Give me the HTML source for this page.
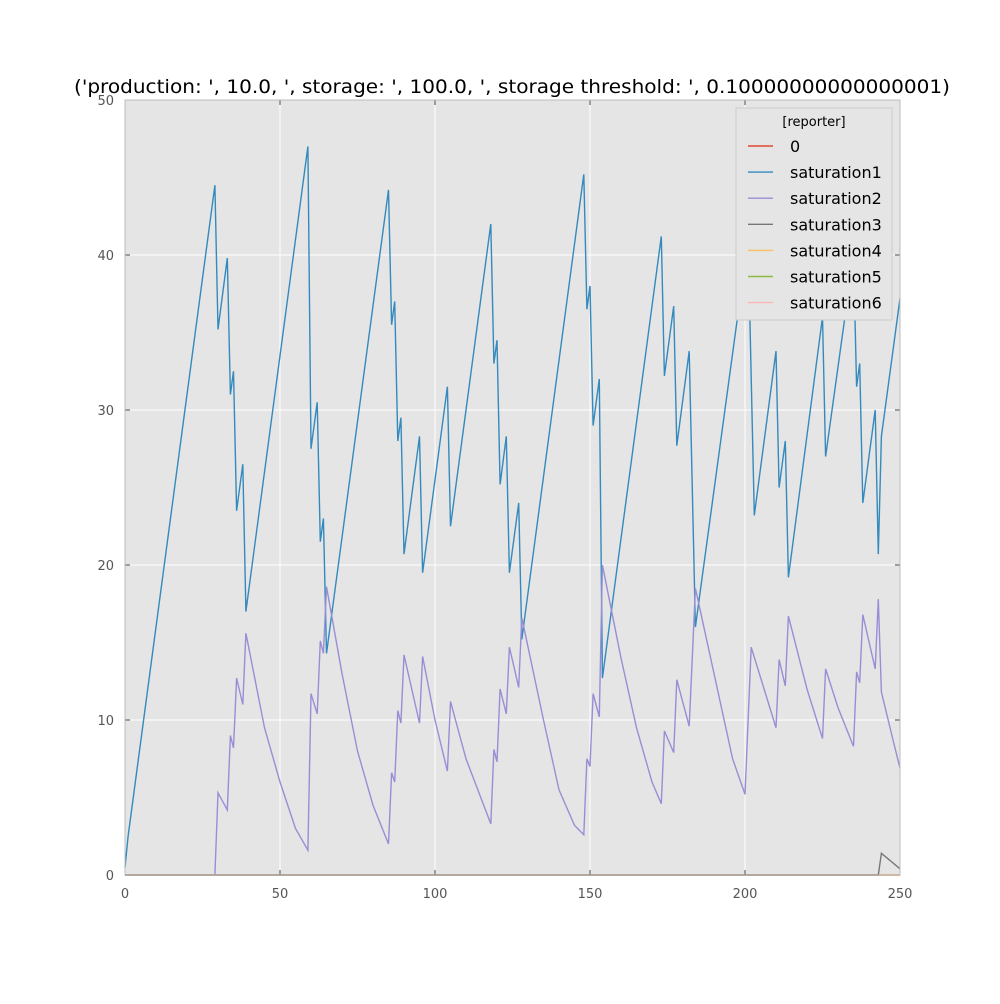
<!DOCTYPE html>
<html><head><meta charset="utf-8"><style>
body{margin:0;background:#fff;font-family:"DejaVu Sans",sans-serif}
svg text{font-family:"DejaVu Sans","Liberation Sans",sans-serif}
</style></head><body>
<svg id="chart" width="1000" height="1000" xmlns="http://www.w3.org/2000/svg">
<rect width="1000" height="1000" fill="#fff"/>
<text x="74" y="93" font-size="19" textLength="876" lengthAdjust="spacingAndGlyphs" fill="#000">('production: ', 10.0, ', storage: ', 100.0, ', storage threshold: ', 0.10000000000000001)</text>
<rect x="125" y="100" width="775" height="775" fill="#e5e5e5"/>
<g id="grid"></g><g id="series"></g><g id="axes"></g><g id="legend"></g>
</svg>
<script>
const xTicks=[0,50,100,150,200,250];
const yTicks=[0,10,20,30,40,50];
const sat1X=[0,1,29,30,33,34,35,36,38,39,59,60,62,63,64,65,85,86,87,88,89,90,95,96,104,105,118,119,120,121,123,124,127,128,148,149,150,151,153,154,173,174,177,178,182,184,201,203,210,211,213,214,225,226,235,236,237,238,242,243,244,250];
const sat1Y=[0.5,2.5,44.5,35.2,39.8,31,32.5,23.5,26.5,17,47,27.5,30.5,21.5,23,14.3,44.2,35.5,37,28,29.5,20.7,28.3,19.5,31.5,22.5,42,33,34.5,25.2,28.3,19.5,24,15.2,45.2,36.5,38,29,32,12.7,41.2,32.2,36.7,27.7,33.8,16,41,23.2,33.8,25,28,19.2,36,27,40,31.5,33,24,30,20.7,28.3,37.2];
const sat2X=[0,29,30,33,34,35,36,38,39,45,50,55,59,60,62,63,64,65,70,75,80,85,86,87,88,89,90,95,96,100,104,105,110,118,119,120,121,123,124,127,128,135,140,145,148,149,150,151,153,154,160,165,170,173,174,177,178,182,184,190,196,200,202,210,211,213,214,220,225,226,230,235,236,237,238,242,243,244,248,250];
const sat2Y=[0,0,5.3,4.2,9,8.2,12.7,11,15.6,9.5,6,3,1.6,11.7,10.4,15.1,14.3,18.6,13,8,4.5,2,6.6,6,10.6,9.8,14.2,9.8,14.1,10,6.7,11.2,7.5,3.3,8.1,7.3,12,10.4,14.7,12.1,16.6,10,5.5,3.2,2.6,7.5,7,11.7,10.2,20,14,9.5,6,4.6,9.3,7.9,12.6,9.6,18.5,13,7.5,5.2,14.7,9.5,13.9,12.2,16.7,12,8.8,13.3,10.8,8.3,13.1,12.4,16.8,13.3,17.8,11.8,8.5,6.9];
const sat3X=[0,243,244,250];
const sat3Y=[0,0,1.4,0.4];
const zeroX=[0,250];
const zeroY=[0,0];
const legendLabels=["0","saturation1","saturation2","saturation3","saturation4","saturation5","saturation6"];
const legendColors=["#e24a33","#348abd","#988ed5","#777777","#fbc15e","#8eba42","#ffb5b8"];

const X=v=>125+v*775/250, Y=v=>875-v*775/50;
const NS="http://www.w3.org/2000/svg";
function mk(t,a,p){const e=document.createElementNS(NS,t);for(const k in a)e.setAttribute(k,a[k]);p.appendChild(e);return e;}
const grid=document.getElementById('grid'),ser=document.getElementById('series'),ax=document.getElementById('axes'),lg=document.getElementById('legend');
xTicks.forEach(t=>{const l=mk('line',{x1:X(t),x2:X(t),y1:100,y2:875,stroke:'#fff','stroke-width':1},grid);

const tx=mk('text',{x:X(t),y:898,'font-size':13,'text-anchor':'middle',fill:'#555'},ax);tx.textContent=t;

mk('line',{x1:X(t),x2:X(t),y1:875,y2:870,stroke:'#555'},ax);mk('line',{x1:X(t),x2:X(t),y1:100,y2:105,stroke:'#555'},ax);});
yTicks.forEach(t=>{const l=mk('line',{x1:125,x2:900,y1:Y(t),y2:Y(t),stroke:'#fff','stroke-width':1},grid);

const tx=mk('text',{x:114,y:Y(t)+5,'font-size':13,'text-anchor':'end',fill:'#555'},ax);tx.textContent=t;

mk('line',{x1:125,x2:130,y1:Y(t),y2:Y(t),stroke:'#555'},ax);mk('line',{x1:900,x2:895,y1:Y(t),y2:Y(t),stroke:'#555'},ax);});
mk('rect',{x:125,y:100,width:775,height:775,fill:'none',stroke:'#bcbcbc'},ax);
function line(xs,ys,c,name){const p=mk('polyline',{points:xs.map((x,i)=>X(x)+','+Y(ys[i])).join(' '),fill:'none',stroke:c,'stroke-width':1.4},ser);
}
line(zeroX,zeroY,legendColors[0],'series-0');
line(sat1X,sat1Y,legendColors[1],'series-saturation1');
line(sat2X,sat2Y,legendColors[2],'series-saturation2');
line(zeroX,zeroY,legendColors[4],'series-saturation4');
line(zeroX,zeroY,legendColors[5],'series-saturation5');
line(zeroX,zeroY,legendColors[6],'series-saturation6');
line(sat3X,sat3Y,legendColors[3],'series-saturation3');
const box=mk('rect',{x:736,y:108,width:156,height:212,fill:'#e5e5e5',stroke:'#ccc'},lg);

const lt=mk('text',{x:814,y:126,'font-size':13,'text-anchor':'middle',fill:'#000'},lg);lt.textContent='[reporter]';

legendLabels.forEach((s,i)=>{const y=146+i*26.1;
const g=mk('g',{},lg);
mk('line',{x1:748,x2:773,y1:y,y2:y,stroke:legendColors[i],'stroke-width':1.4},g);
const t=mk('text',{x:790,y:y+6,'font-size':16,fill:'#000'},g);t.textContent=s;});
</script>
</body></html>
